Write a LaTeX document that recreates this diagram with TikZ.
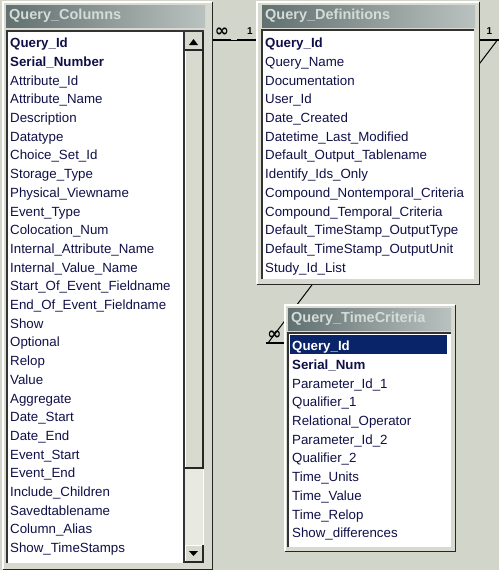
\documentclass[tikz,border=0pt]{standalone}
\usepackage{fontspec}
\setmainfont{Liberation Sans}
\newfontfamily\symbfont{DejaVu Sans}
\usetikzlibrary{positioning}

\definecolor{deskgray}{RGB}{210,214,202}
\definecolor{framegray}{RGB}{216,218,208}
\definecolor{titledark}{RGB}{98,112,112}
\definecolor{titlelight}{RGB}{186,194,192}
\definecolor{titletext}{RGB}{210,220,216}
\definecolor{fieldtext}{RGB}{16,16,72}
\definecolor{selblue}{RGB}{10,36,106}
\definecolor{trackgray}{RGB}{232,234,226}

\begin{document}
\begin{tikzpicture}[
    x=1pt, y=1pt,
    node distance=18.7pt,
    win/.style={fill=framegray, inner sep=0pt, anchor=north west},
    titlebar/.style={left color=titledark, right color=titlelight, anchor=north west, minimum height=22pt, inner xsep=3pt, inner ysep=0pt, align=left, text=titletext, font=\fontsize{14.5}{16}\selectfont\bfseries},
    listbox/.style={fill=white, inner sep=0pt, anchor=north west},
    field/.style={text width=190pt, align=left, inner sep=0pt, text height=9.5pt, text depth=0pt, text=fieldtext, font=\fontsize{13.3}{14}\selectfont},
    key/.style={field, font=\fontsize{13.3}{14}\selectfont\bfseries},
    hilite/.style={key, text=white},
    relline/.style={line width=2.6pt},
    joinline/.style={line width=1pt},
    card/.style={inner sep=1pt, font=\fontsize{10}{10}\selectfont\bfseries},
    many/.style={inner sep=0pt, font=\symbfont\fontsize{17}{17}\selectfont\bfseries}
]
    \useasboundingbox (0,0) rectangle (499,-570);
    \fill[deskgray] (0,0) rectangle (499,-570);

    % Draw windows
    \node[win, minimum width=209pt, minimum height=567pt] (qcwin) at (3,-2) {};
    \node[win, minimum width=222pt, minimum height=282pt] (qdwin) at (257,-2) {};
    \node[win, minimum width=170pt, minimum height=246pt] (tcwin) at (285,-305) {};

    % Draw connections
    \coordinate (qcout) at (qcwin.east |- 0,-40);
    \coordinate (qdin) at (qdwin.west |- 0,-40);
    \coordinate (qdout) at (qdwin.east |- 0,-40);
    \coordinate (tcin) at (tcwin.west |- 0,-343);
    \draw[joinline] (qcout) -- (qdin);
    \draw[relline] (qcout) -- ++(19,0) node[midway, above=2pt, many] {∞};
    \draw[relline] (qdin) -- ++(-20,0) node[pos=0.35, above=3pt, card] {1};
    \draw[relline] (qdout) -- ++(20,0) coordinate (bend) node[midway, above=3pt, card] {1};
    \draw[relline] (tcin) -- ++(-19,0) coordinate (tcstub) node[pos=0.55, above=2pt, many] {∞};
    \draw[joinline] ([xshift=-2pt]bend) -- ([xshift=2pt]tcstub);

    % Window frames
    \fill[framegray] (qcwin.south west) rectangle (qcwin.north east);
    \fill[framegray] (qdwin.south west) rectangle (qdwin.north east);
    \fill[framegray] (tcwin.south west) rectangle (tcwin.north east);
    \draw[white, line width=1.2pt] (qcwin.south west) -- (qcwin.north west) -- (qcwin.north east);
    \draw[black!85, line width=1.6pt] (qcwin.north east) -- (qcwin.south east) -- (qcwin.south west);
    \draw[white, line width=1.2pt] (qdwin.south west) -- (qdwin.north west) -- (qdwin.north east);
    \draw[black!85, line width=1.6pt] (qdwin.north east) -- (qdwin.south east) -- (qdwin.south west);
    \draw[white, line width=1.2pt] (tcwin.south west) -- (tcwin.north west) -- (tcwin.north east);
    \draw[black!85, line width=1.6pt] (tcwin.north east) -- (tcwin.south east) -- (tcwin.south west);

    % Title bars
    \node[titlebar, text width=193pt] (qc) at (6,-5) {Query\_Columns};
    \node[titlebar, text width=207pt] (qd) at (262,-5) {Query\_Definitions};
    \node[titlebar, text width=157pt] (tc) at (288,-308) {Query\_TimeCriteria};

    % Field lists
    \node[listbox, minimum width=197pt, minimum height=532pt] (qclist) at (7,-31) {};
    \node[listbox, minimum width=212pt, minimum height=249pt] (qdlist) at (262,-30) {};
    \node[listbox, minimum width=163pt, minimum height=214pt] (tclist) at (288,-333) {};
    \draw[black!80, line width=1.2pt] (qclist.south west) -- (qclist.north west) -- (qclist.north east);
    \draw[black!80, line width=1.2pt] (qdlist.south west) -- (qdlist.north west) -- (qdlist.north east);
    \draw[black!80, line width=1.2pt] (tclist.south west) -- (tclist.north west) -- (tclist.north east);

    % Scroll bar
    \fill[trackgray] (185,-50) rectangle (203,-545);
    \fill[framegray] (185,-50) rectangle (203,-468);
    \draw[white] (185.5,-468) -- (185.5,-50.5) -- (203,-50.5);
    \draw[black!85, line width=1.2pt] (185,-468) -- (203,-468) -- (203,-50);
    \fill[framegray] (185,-32) rectangle (203,-50);
    \draw[black!85, line width=1.2pt] (185,-50) -- (203,-50) -- (203,-32);
    \fill (193.5,-39) -- (189,-45) -- (198,-45) -- cycle;
    \fill[framegray] (185,-545) rectangle (203,-562);
    \draw[white] (185.5,-562) -- (185.5,-545.5) -- (203,-545.5);
    \draw[black!85, line width=1.2pt] (185,-562) -- (203,-562) -- (203,-545);
    \fill (193.5,-556) -- (189,-551) -- (198,-551) -- cycle;
    \draw[black!80, line width=1.2pt] (184,-31) -- (184,-563);

    % Query_Columns fields
    \node[key, anchor=west] (qc1) at (10,-43) {Query\_Id};
    \node[key, below of=qc1] (qc2) {Serial\_Number};
    \node[field, below of=qc2] (qc3) {Attribute\_Id};
    \node[field, below of=qc3] (qc4) {Attribute\_Name};
    \node[field, below of=qc4] (qc5) {Description};
    \node[field, below of=qc5] (qc6) {Datatype};
    \node[field, below of=qc6] (qc7) {Choice\_Set\_Id};
    \node[field, below of=qc7] (qc8) {Storage\_Type};
    \node[field, below of=qc8] (qc9) {Physical\_Viewname};
    \node[field, below of=qc9] (qc10) {Event\_Type};
    \node[field, below of=qc10] (qc11) {Colocation\_Num};
    \node[field, below of=qc11] (qc12) {Internal\_Attribute\_Name};
    \node[field, below of=qc12] (qc13) {Internal\_Value\_Name};
    \node[field, below of=qc13] (qc14) {Start\_Of\_Event\_Fieldname};
    \node[field, below of=qc14] (qc15) {End\_Of\_Event\_Fieldname};
    \node[field, below of=qc15] (qc16) {Show};
    \node[field, below of=qc16] (qc17) {Optional};
    \node[field, below of=qc17] (qc18) {Relop};
    \node[field, below of=qc18] (qc19) {Value};
    \node[field, below of=qc19] (qc20) {Aggregate};
    \node[field, below of=qc20] (qc21) {Date\_Start};
    \node[field, below of=qc21] (qc22) {Date\_End};
    \node[field, below of=qc22] (qc23) {Event\_Start};
    \node[field, below of=qc23] (qc24) {Event\_End};
    \node[field, below of=qc24] (qc25) {Include\_Children};
    \node[field, below of=qc25] (qc26) {Savedtablename};
    \node[field, below of=qc26] (qc27) {Column\_Alias};
    \node[field, below of=qc27] (qc28) {Show\_TimeStamps};

    % Query_Definitions fields
    \node[key, anchor=west] (qd1) at (265,-43) {Query\_Id};
    \node[field, below of=qd1] (qd2) {Query\_Name};
    \node[field, below of=qd2] (qd3) {Documentation};
    \node[field, below of=qd3] (qd4) {User\_Id};
    \node[field, below of=qd4] (qd5) {Date\_Created};
    \node[field, below of=qd5] (qd6) {Datetime\_Last\_Modified};
    \node[field, below of=qd6] (qd7) {Default\_Output\_Tablename};
    \node[field, below of=qd7] (qd8) {Identify\_Ids\_Only};
    \node[field, below of=qd8] (qd9) {Compound\_Nontemporal\_Criteria};
    \node[field, below of=qd9] (qd10) {Compound\_Temporal\_Criteria};
    \node[field, below of=qd10] (qd11) {Default\_TimeStamp\_OutputType};
    \node[field, below of=qd11] (qd12) {Default\_TimeStamp\_OutputUnit};
    \node[field, below of=qd12] (qd13) {Study\_Id\_List};

    % Query_TimeCriteria fields
    \fill[selblue] (290,-335) rectangle (447,-354);
    \node[hilite, anchor=west] (tc1) at (292,-346) {Query\_Id};
    \node[key, below of=tc1] (tc2) {Serial\_Num};
    \node[field, below of=tc2] (tc3) {Parameter\_Id\_1};
    \node[field, below of=tc3] (tc4) {Qualifier\_1};
    \node[field, below of=tc4] (tc5) {Relational\_Operator};
    \node[field, below of=tc5] (tc6) {Parameter\_Id\_2};
    \node[field, below of=tc6] (tc7) {Qualifier\_2};
    \node[field, below of=tc7] (tc8) {Time\_Units};
    \node[field, below of=tc8] (tc9) {Time\_Value};
    \node[field, below of=tc9] (tc10) {Time\_Relop};
    \node[field, below of=tc10] (tc11) {Show\_differences};

\end{tikzpicture}
\end{document}
